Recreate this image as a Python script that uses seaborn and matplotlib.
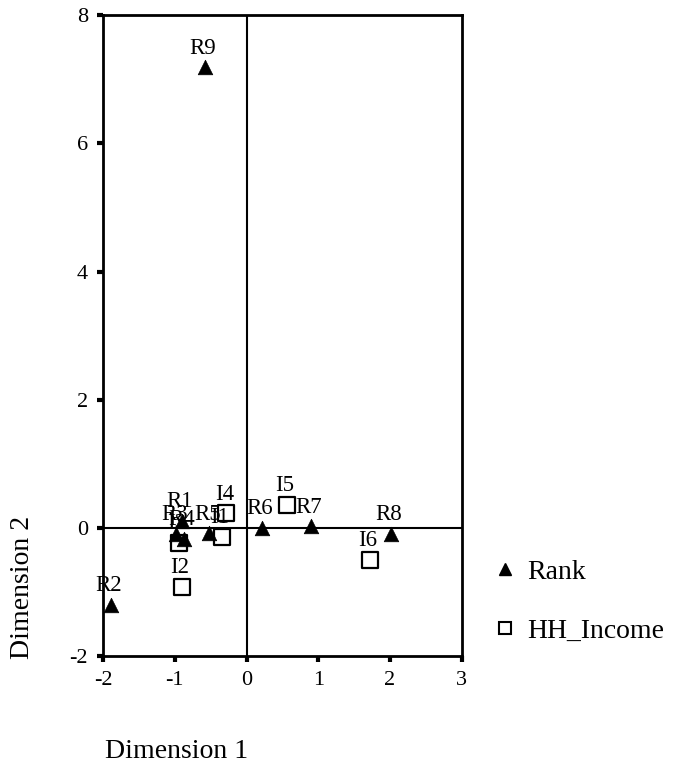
import matplotlib
matplotlib.use("Agg")
import matplotlib.pyplot as plt
import seaborn as sns
import pandas as pd
from matplotlib.lines import Line2D

# Category coordinates from the correspondence analysis
rank_labels = ["R1", "R2", "R3", "R4", "R5", "R6", "R7", "R8", "R9"]
rank_dim1 = [-0.90, -1.89, -0.98, -0.87, -0.52, 0.21, 0.90, 2.01, -0.58]
rank_dim2 = [0.11, -1.20, -0.09, -0.17, -0.08, 0.00, 0.03, -0.09, 7.19]

income_labels = ["I1", "I2", "I3", "I4", "I5", "I6"]
income_dim1 = [-0.34, -0.90, -0.94, -0.28, 0.56, 1.72]
income_dim2 = [-0.14, -0.92, -0.23, 0.23, 0.36, -0.50]

x_ticks = [-2, -1, 0, 1, 2, 3]
y_ticks = [-2, 0, 2, 4, 6, 8]

rank_df = pd.DataFrame({"label": rank_labels, "dim1": rank_dim1, "dim2": rank_dim2})
income_df = pd.DataFrame({"label": income_labels, "dim1": income_dim1, "dim2": income_dim2})

sns.set_style("white")
plt.rcParams["font.family"] = ["Liberation Serif", "DejaVu Serif"]
plt.rcParams["text.color"] = "black"
plt.rcParams["axes.labelcolor"] = "black"
plt.rcParams["xtick.color"] = "black"
plt.rcParams["ytick.color"] = "black"

fig = plt.figure(figsize=(6.74, 7.68), dpi=100)
ax = fig.add_axes([0.153, 0.146, 0.532, 0.834])

ax.axhline(0, color="black", lw=1.5, zorder=1)
ax.axvline(0, color="black", lw=1.5, zorder=1)

sns.scatterplot(data=income_df, x="dim1", y="dim2", marker="s", s=120,
                facecolor="white", edgecolor="black", linewidth=1.6,
                ax=ax, zorder=3, legend=False)
sns.scatterplot(data=rank_df, x="dim1", y="dim2", marker="^", s=110,
                color="black", edgecolor="black", linewidth=0.5,
                ax=ax, zorder=4, legend=False)

for df in (rank_df, income_df):
    for _, row in df.iterrows():
        ax.annotate(row["label"], (row["dim1"], row["dim2"]),
                    xytext=(-1.5, 6), textcoords="offset points",
                    ha="center", va="bottom", fontsize=16.5, zorder=5)

ax.set_xlim(-2, 3)
ax.set_ylim(-2, 8)
ax.set_xticks(x_ticks)
ax.set_yticks(y_ticks)
ax.set_xticklabels([str(t) for t in x_ticks], fontsize=16)
ax.set_yticklabels([str(t) for t in y_ticks], fontsize=16)
ax.tick_params(axis="both", direction="out", length=4, width=3,
               color="black", pad=7, bottom=True, left=True)
for sp in ax.spines.values():
    sp.set_color("black")
    sp.set_linewidth(2)
ax.set_xlabel("")
ax.set_ylabel("")

fig.text(0.156, 0.022, "Dimension 1", fontsize=20, ha="left", va="center")
fig.text(0.034, 0.235, "Dimension 2", fontsize=20, rotation=90,
         ha="center", va="center")

handles = [
    Line2D([], [], marker="^", color="black", linestyle="none", markersize=8),
    Line2D([], [], marker="s", markerfacecolor="white", markeredgecolor="black",
           markeredgewidth=1.5, linestyle="none", markersize=9),
]
fig.legend(handles, ["Rank", "HH_Income"], loc="center left",
           bbox_to_anchor=(0.733, 0.217), frameon=False, fontsize=20,
           labelspacing=1.2, handletextpad=0.4, handlelength=0.8,
           borderpad=0, borderaxespad=0)

fig.savefig("out.png", dpi=100)
